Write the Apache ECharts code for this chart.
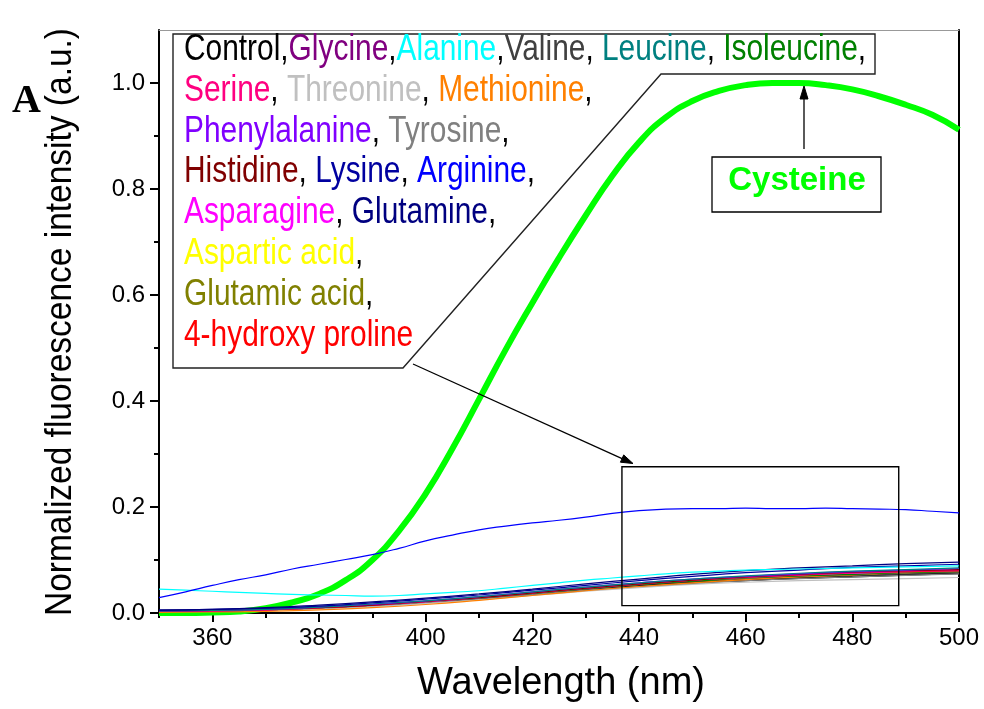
<!DOCTYPE html>
<html>
<head>
<meta charset="utf-8">
<script src="https://cdn.jsdelivr.net/npm/echarts@6/dist/echarts.min.js"></script>
<style>
  html, body { margin: 0; padding: 0; background: #ffffff; }
  #chart { width: 984px; height: 709px; }
</style>
</head>
<body>
<div id="chart"></div>
<script>
// Emission wavelengths (nm)
const wl5 = [350,355,360,365,370,375,380,385,390,395,400,405,410,415,420,425,430,435,440,445,450,455,460,465,470,475,480,485,490,495,500];
const wl10 = [350,360,370,380,390,400,410,420,430,440,450,460,470,480,490,500];

// Normalized intensities sampled every 5 nm
const cysteine = [0.000,0.000,0.001,0.003,0.009,0.020,0.036,0.062,0.100,0.155,0.225,0.310,0.403,0.497,0.585,0.670,0.750,0.825,0.888,0.935,0.966,0.985,0.996,1.000,1.000,0.996,0.988,0.975,0.959,0.940,0.912];
const arginine = [0.029,0.040,0.052,0.063,0.072,0.083,0.092,0.101,0.110,0.122,0.136,0.147,0.157,0.164,0.170,0.175,0.181,0.188,0.193,0.196,0.197,0.197,0.198,0.197,0.197,0.198,0.197,0.196,0.195,0.192,0.189];
const alanine  = [0.045,0.043,0.041,0.039,0.037,0.035,0.034,0.033,0.032,0.033,0.036,0.039,0.042,0.047,0.052,0.057,0.062,0.066,0.070,0.074,0.077,0.079,0.081,0.082,0.083,0.084,0.085,0.086,0.087,0.088,0.089];

// Normalized intensities sampled every 10 nm
const control       = [0.004,0.005,0.007,0.010,0.015,0.021,0.028,0.036,0.044,0.052,0.058,0.062,0.066,0.069,0.072,0.075];
const glycine       = [0.004,0.005,0.007,0.011,0.016,0.022,0.029,0.037,0.046,0.054,0.061,0.066,0.070,0.073,0.076,0.078];
const valine        = [0.004,0.005,0.006,0.010,0.015,0.021,0.028,0.037,0.046,0.053,0.059,0.064,0.068,0.071,0.074,0.077];
const leucine       = [0.004,0.005,0.007,0.011,0.017,0.023,0.031,0.040,0.049,0.057,0.064,0.070,0.075,0.079,0.082,0.085];
const isoleucine    = [0.003,0.004,0.006,0.010,0.015,0.021,0.029,0.037,0.046,0.054,0.060,0.066,0.070,0.073,0.076,0.078];
const serine        = [0.003,0.004,0.006,0.010,0.015,0.022,0.030,0.038,0.047,0.055,0.062,0.067,0.072,0.076,0.079,0.081];
const threonine     = [0.003,0.004,0.005,0.008,0.012,0.018,0.025,0.033,0.041,0.048,0.054,0.058,0.061,0.063,0.065,0.067];
const methionine    = [0.001,0.002,0.003,0.006,0.010,0.016,0.024,0.033,0.042,0.050,0.057,0.063,0.068,0.072,0.076,0.079];
const phenylalanine = [0.004,0.005,0.007,0.011,0.016,0.023,0.031,0.040,0.049,0.057,0.064,0.069,0.074,0.078,0.081,0.084];
const tyrosine      = [0.003,0.004,0.006,0.009,0.014,0.020,0.027,0.035,0.043,0.050,0.056,0.061,0.065,0.068,0.071,0.074];
const histidine     = [0.004,0.005,0.007,0.010,0.015,0.022,0.029,0.038,0.047,0.055,0.062,0.068,0.073,0.077,0.080,0.082];
const lysine        = [0.005,0.007,0.009,0.013,0.019,0.026,0.034,0.043,0.052,0.061,0.069,0.076,0.081,0.086,0.089,0.092];
const asparagine    = [0.003,0.004,0.006,0.010,0.015,0.021,0.029,0.038,0.047,0.055,0.062,0.068,0.072,0.075,0.078,0.080];
const glutamine     = [0.006,0.007,0.010,0.015,0.021,0.028,0.036,0.045,0.055,0.064,0.073,0.080,0.085,0.089,0.093,0.096];
const asparticAcid  = [0.003,0.004,0.006,0.010,0.015,0.021,0.029,0.037,0.046,0.054,0.061,0.066,0.070,0.073,0.076,0.078];
const glutamicAcid  = [0.003,0.004,0.006,0.010,0.015,0.022,0.029,0.038,0.047,0.055,0.062,0.067,0.071,0.075,0.077,0.079];
const hydroxyproline= [0.003,0.004,0.006,0.010,0.015,0.022,0.030,0.038,0.047,0.055,0.062,0.068,0.072,0.076,0.078,0.080];

// Axis ticks
const xMajor = [360,380,400,420,440,460,480,500];
const xMinor = [350,370,390,410,430,450,470,490];
const yMajor = [0,0.2,0.4,0.6,0.8,1.0];
const yMinor = [0.1,0.3,0.5,0.7,0.9];

const SANS = '"Liberation Sans", Arial, Helvetica, sans-serif';

// Drawing order: the thick cysteine trace sits underneath the others
const traces = [
  { name: 'Cysteine',          color: '#00ff00', x: wl5,  y: cysteine,       w: 6 },
  { name: 'Control',           color: '#000000', x: wl10, y: control,        w: 2 },
  { name: 'Threonine',         color: '#c0c0c0', x: wl10, y: threonine,      w: 1.2 },
  { name: 'Tyrosine',          color: '#808080', x: wl10, y: tyrosine,       w: 1.2 },
  { name: 'Valine',            color: '#404040', x: wl10, y: valine,         w: 1.2 },
  { name: 'Methionine',        color: '#ff8000', x: wl10, y: methionine,     w: 1.2 },
  { name: 'Aspartic acid',     color: '#ffff00', x: wl10, y: asparticAcid,   w: 1.2 },
  { name: 'Glycine',           color: '#800080', x: wl10, y: glycine,        w: 1.2 },
  { name: 'Isoleucine',        color: '#008000', x: wl10, y: isoleucine,     w: 1.2 },
  { name: 'Glutamic acid',     color: '#808000', x: wl10, y: glutamicAcid,   w: 1.2 },
  { name: 'Asparagine',        color: '#ff00ff', x: wl10, y: asparagine,     w: 1.2 },
  { name: '4-hydroxy proline', color: '#ff0000', x: wl10, y: hydroxyproline, w: 1.2 },
  { name: 'Serine',            color: '#ff0080', x: wl10, y: serine,         w: 1.2 },
  { name: 'Histidine',         color: '#800000', x: wl10, y: histidine,      w: 1.2 },
  { name: 'Phenylalanine',     color: '#8000ff', x: wl10, y: phenylalanine,  w: 1.2 },
  { name: 'Leucine',           color: '#008080', x: wl10, y: leucine,        w: 1.2 },
  { name: 'Lysine',            color: '#0000a0', x: wl10, y: lysine,         w: 1.2 },
  { name: 'Glutamine',         color: '#000080', x: wl10, y: glutamine,      w: 1.2 },
  { name: 'Alanine',           color: '#00ffff', x: wl5,  y: alanine,        w: 1.2 },
  { name: 'Arginine',          color: '#0000ff', x: wl5,  y: arginine,       w: 1.2 }
];

const colorOf = {};
traces.forEach(t => { colorOf[t.name] = t.color; });

// Legend text rows: [label, separator]
const legendRows = [
  [['Control', ','], ['Glycine', ','], ['Alanine', ','], ['Valine', ', '], ['Leucine', ', '], ['Isoleucine', ',']],
  [['Serine', ', '], ['Threonine', ', '], ['Methionine', ',']],
  [['Phenylalanine', ', '], ['Tyrosine', ',']],
  [['Histidine', ', '], ['Lysine', ', '], ['Arginine', ',']],
  [['Asparagine', ', '], ['Glutamine', ',']],
  [['Aspartic acid', ',']],
  [['Glutamic acid', ',']],
  [['4-hydroxy proline', '']]
];

const chart = echarts.init(document.getElementById('chart'), null, { renderer: 'canvas' });

const series = traces.map(t => ({
  name: t.name,
  type: 'line',
  xAxisIndex: 0,
  yAxisIndex: 0,
  data: t.x.map((v, i) => [v, t.y[i]]),
  smooth: true,
  showSymbol: false,
  symbol: 'none',
  lineStyle: { color: t.color, width: t.w },
  emphasis: { disabled: true },
  silent: true
}));

const axisFont = { fontFamily: SANS, fontSize: 24, color: '#000' };

chart.setOption({
  animation: false,
  backgroundColor: '#ffffff',
  grid: { left: 159, right: 25, top: 30, bottom: 96, containLabel: false, outerBoundsMode: 'none' },
  xAxis: [
    {
      type: 'value', min: 350, max: 500, position: 'bottom',
      axisLine: { show: true, onZero: false, lineStyle: { color: '#000', width: 2 } },
      axisTick: { show: true, inside: false, length: 9, customValues: xMajor, lineStyle: { color: '#000', width: 2 } },
      axisLabel: Object.assign({ customValues: xMajor, margin: 13 }, axisFont),
      splitLine: { show: false }
    },
    {
      type: 'value', min: 350, max: 500, position: 'bottom',
      axisLine: { show: false },
      axisTick: { show: true, inside: false, length: 5, customValues: xMinor, lineStyle: { color: '#000', width: 2 } },
      axisLabel: { show: false },
      splitLine: { show: false }
    },
    {
      type: 'value', min: 350, max: 500, position: 'top',
      axisLine: { show: true, onZero: false, lineStyle: { color: '#999', width: 1 } },
      axisTick: { show: false }, axisLabel: { show: false }, splitLine: { show: false }
    }
  ],
  yAxis: [
    {
      type: 'value', min: 0, max: 1.1, position: 'left',
      axisLine: { show: true, onZero: false, lineStyle: { color: '#000', width: 2 } },
      axisTick: { show: true, inside: false, length: 9, customValues: yMajor, lineStyle: { color: '#000', width: 2 } },
      axisLabel: Object.assign({ customValues: yMajor, margin: 14, formatter: v => v.toFixed(1) }, axisFont),
      splitLine: { show: false }
    },
    {
      type: 'value', min: 0, max: 1.1, position: 'left',
      axisLine: { show: false },
      axisTick: { show: true, inside: false, length: 5, customValues: yMinor, lineStyle: { color: '#000', width: 2 } },
      axisLabel: { show: false },
      splitLine: { show: false }
    },
    {
      type: 'value', min: 0, max: 1.1, position: 'right',
      axisLine: { show: true, onZero: false, lineStyle: { color: '#000', width: 2 } },
      axisTick: { show: false }, axisLabel: { show: false }, splitLine: { show: false }
    }
  ],
  series: series
});

// ---- annotations ----
function arrow(x1, y1, x2, y2, headLen, headHalf) {
  const dx = x2 - x1, dy = y2 - y1;
  const len = Math.sqrt(dx * dx + dy * dy);
  const ux = dx / len, uy = dy / len;
  const bx = x2 - ux * headLen, by = y2 - uy * headLen;
  const nx = -uy, ny = ux;
  return [
    { type: 'line', silent: true, z: 50,
      shape: { x1: x1, y1: y1, x2: bx, y2: by },
      style: { stroke: '#000', lineWidth: 1.3 } },
    { type: 'polygon', silent: true, z: 50,
      shape: { points: [[x2, y2], [bx + nx * headHalf, by + ny * headHalf], [bx - nx * headHalf, by - ny * headHalf]] },
      style: { fill: '#000', stroke: '#000', lineWidth: 1 } }
  ];
}

const rowFont = 36;
const rowScale = 0.83;
const legendTexts = legendRows.map((row, i) => {
  const rich = { k: { fill: '#000', color: '#000', fontSize: rowFont, fontFamily: SANS } };
  let text = '';
  row.forEach((pair, j) => {
    const key = 'c' + j;
    rich[key] = { fill: colorOf[pair[0]], color: colorOf[pair[0]], fontSize: rowFont, fontFamily: SANS };
    text += '{' + key + '|' + pair[0] + '}';
    if (pair[1]) text += '{k|' + pair[1] + '}';
  });
  return {
    type: 'text', silent: true, z: 60,
    x: 184, y: 50 + 40.8 * i, scaleX: rowScale,
    style: { x: 0, y: 0, text: text, rich: rich, fontSize: rowFont, fontFamily: SANS, align: 'left', verticalAlign: 'middle' }
  };
});

// zoomed region drawn as a rectangle in data coordinates
const insetLo = chart.convertToPixel({ gridIndex: 0 }, [436.8, 0.014]);
const insetHi = chart.convertToPixel({ gridIndex: 0 }, [488.7, 0.276]);

const graphics = [
  // panel letter
  { type: 'text', silent: true, z: 60, x: 12, y: 102,
    style: { text: 'A', font: 'bold 40px "Liberation Serif", "Times New Roman", serif', fill: '#000', align: 'left', verticalAlign: 'middle' } },
  // axis titles
  { type: 'text', silent: true, z: 60, x: 61, y: 322, rotation: Math.PI / 2, scaleX: 0.93,
    style: { text: 'Normalized fluorescence intensity (a.u.)', fontSize: 36, fontFamily: SANS, fill: '#000', align: 'center', verticalAlign: 'middle' } },
  { type: 'text', silent: true, z: 60, x: 561, y: 684,
    style: { text: 'Wavelength (nm)', fontSize: 38, fontFamily: SANS, fill: '#000', align: 'center', verticalAlign: 'middle' } },
  // legend callout outline
  { type: 'polygon', silent: true, z: 55,
    shape: { points: [[173, 34], [875, 34], [875, 74], [661, 74], [403, 368], [173, 368]] },
    style: { fill: 'none', stroke: '#222', lineWidth: 1.4 } },
  // inset rectangle
  { type: 'rect', silent: true, z: 50,
    shape: { x: insetLo[0], y: insetHi[1], width: insetHi[0] - insetLo[0], height: insetLo[1] - insetHi[1] },
    style: { fill: 'none', stroke: '#000', lineWidth: 1.4 } },
  // Cysteine label box
  { type: 'rect', silent: true, z: 50,
    shape: { x: 712, y: 157, width: 169, height: 55 },
    style: { fill: '#fff', stroke: '#000', lineWidth: 1.3 } },
  { type: 'text', silent: true, z: 60, x: 797, y: 181,
    style: { text: 'Cysteine', font: 'bold 33px ' + SANS, fill: '#00ff00', align: 'center', verticalAlign: 'middle' } }
].concat(
  arrow(413, 364, 633, 463.5, 12, 4),
  arrow(804, 149, 804, 86, 13, 4),
  legendTexts
);

chart.setOption({ graphic: { elements: graphics } });
</script>
</body>
</html>
